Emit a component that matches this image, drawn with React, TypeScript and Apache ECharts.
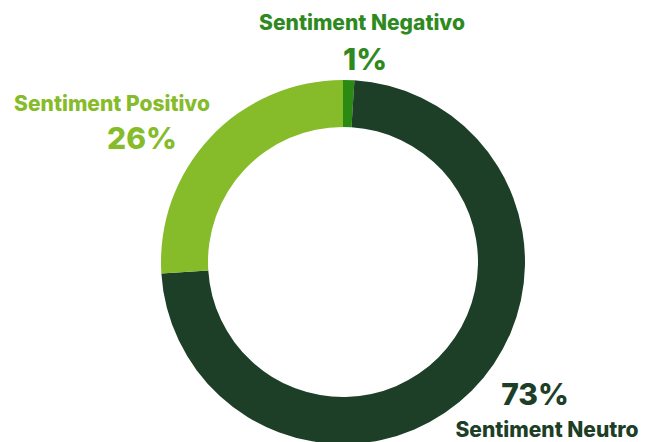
import React, { useEffect, useRef } from "react";
import * as echarts from "echarts";

const categories = ["Sentiment Negativo", "Sentiment Neutro", "Sentiment Positivo"];
const values = [1, 73, 26];
const sliceColors = ["#2A8A12", "#1D3F27", "#86BB2A"];
const labelColors = ["#2E8A1E", "#1D3F27", "#86BB2A"];

export default function App() {
  const ref = useRef<HTMLDivElement>(null);
  useEffect(() => {
    document.body.style.margin = "0";
    const chart = echarts.init(ref.current!, null, { renderer: "svg" });
    const font = "Inter, 'Noto Sans', sans-serif";
    const namePos = [
      [362, 22],
      [547, 429],
      [112, 103],
    ];
    const valPos = [
      [365, 59],
      [535, 394],
      [142, 138],
    ];
    const elements: any[] = [];
    categories.forEach((c, i) => {
      elements.push({
        type: "text",
        x: namePos[i][0],
        y: namePos[i][1],
        style: {
          text: c,
          fill: labelColors[i],
          font: `800 21px ${font}`,
          textAlign: "center",
          textVerticalAlign: "middle",
        },
      });
      elements.push({
        type: "text",
        x: valPos[i][0],
        y: valPos[i][1],
        style: {
          text: values[i] + "%",
          fill: labelColors[i],
          font: `800 30px ${font}`,
          textAlign: "center",
          textVerticalAlign: "middle",
        },
      });
    });
    chart.setOption({
      animation: false,
      backgroundColor: "#ffffff",
      series: [
        {
          type: "pie",
          center: [343, 262],
          radius: [135, 182],
          startAngle: 90,
          clockwise: true,
          label: { show: false },
          labelLine: { show: false },
          emphasis: { disabled: true },
          data: categories.map((c, i) => ({
            name: c,
            value: values[i],
            itemStyle: { color: sliceColors[i] },
          })),
        },
      ],
      graphic: elements,
    });
    return () => chart.dispose();
  }, []);
  return <div ref={ref} style={{ width: 648, height: 442 }} />;
}
